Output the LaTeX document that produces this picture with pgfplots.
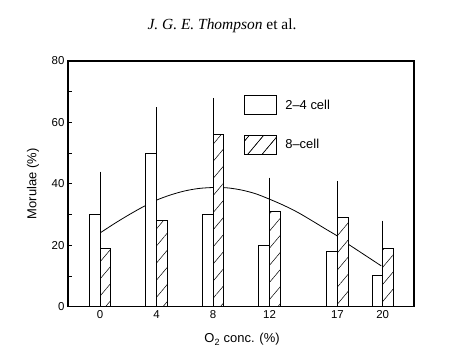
\documentclass[border=0pt]{standalone}
\usepackage{fontspec}
\setmainfont{Liberation Sans}
\newfontfamily\serif{Liberation Serif}
\usepackage{pgfplots}
\usepackage{pgfplotstable}
\pgfplotsset{compat=1.18}
\usetikzlibrary{patterns.meta}

\pgfplotstableread{
x a aerr b berr
0 30 14 19 10
4 50 15 28 11
8 30 14 56 12
12 20 13 31 11
16.8 18 12 29 12
20 10 8.5 19 9
}\data

\begin{document}
\begin{tikzpicture}
\path (0bp,0bp) rectangle (467bp,364bp);
\node[font=\serif\fontsize{15.5}{18}\selectfont] at (222bp,338bp) {\textit{J. G. E. Thompson} et al.};
\begin{axis}[
  at={(68bp,57.3bp)}, anchor=south west,
  scale only axis, width=346bp, height=245.7bp,
  xmin=-2.265, xmax=22.22, ymin=0, ymax=80,
  axis line style={line width=1.2bp},
  xtick={0,4,8,12,16.8,20}, xticklabels={0,4,8,12,17,20},
  ytick={0,20,40,60,80}, minor ytick={10,30,50,70},
  tick pos=left, tick align=inside,
  major tick length=4bp, minor tick length=4bp,
  x tick style={draw=none},
  every tick/.style={black, line width=0.8bp},
  /pgf/number format/assume math mode=true,
  tick label style={font=\fontsize{11.5}{13}\selectfont},
  label style={font=\fontsize{13}{15}\selectfont},
  xlabel={O\textsubscript{2} conc. (\%)},
  ylabel={Morulae (\%)},
  xlabel style={at={(axis description cs:0.503,-0.134)}, anchor=center},
  ylabel style={at={(axis description cs:-0.101,0.5)}, anchor=center},
  legend style={at={(rel axis cs:0.509,0.862)}, anchor=north west, draw=none, fill=none,
    inner sep=0pt, row sep=19.5bp, column sep=0pt,
    nodes={inner sep=0pt, font=\fontsize{13}{15}\selectfont},
    cells={anchor=west}},
  legend cell align=left,
]
\addplot[smooth, black, line width=0.8bp, forget plot] coordinates {
(0,24) (1,27) (2,29.8) (3,32.4) (4,34.7) (5,36.4) (6,37.7) (7,38.5) (8,38.8) (9,38.7) (10,38) (11,36.8) (12,35) (13,33) (14,30.7) (15,28) (16,25.2) (16.8,23) (17.55,20.4)};
\addplot[black, line width=0.8bp, forget plot] coordinates {(17.55,20.4) (19.9,13.3)};
\addplot[ybar, bar width=0.75, bar shift=-0.375, draw=black, line width=1bp, fill=white,
  legend image code/.code={\draw[black, line width=1bp, fill=white] (0bp,-9.5bp) rectangle (31.7bp,9.5bp); \path (40bp,0bp);},
  error bars/.cd, y dir=plus, y explicit, error mark=none,
  error bar style={line width=0.8bp, black}]
  table[x=x, y=a, y error=aerr]{\data};
\addlegendentry{2--4 cell}
\addplot[ybar, bar width=0.75, bar shift=0.375, draw=black, line width=1bp, fill=white,
  postaction={pattern={Lines[angle=50,distance=11bp,line width=0.5bp]}},
  legend image code/.code={\draw[black, line width=1bp, fill=white, postaction={pattern={Lines[angle=50,distance=11bp,line width=0.5bp]}}] (0bp,-9.5bp) rectangle (31.7bp,9.5bp); \path (40bp,0bp);},
  error bars/.cd, y dir=plus, y explicit, error mark=none,
  error bar style={line width=0.8bp, black}]
  table[x=x, y=b, y error=berr]{\data};
\addlegendentry{8--cell}
\end{axis}
\end{tikzpicture}
\end{document}
